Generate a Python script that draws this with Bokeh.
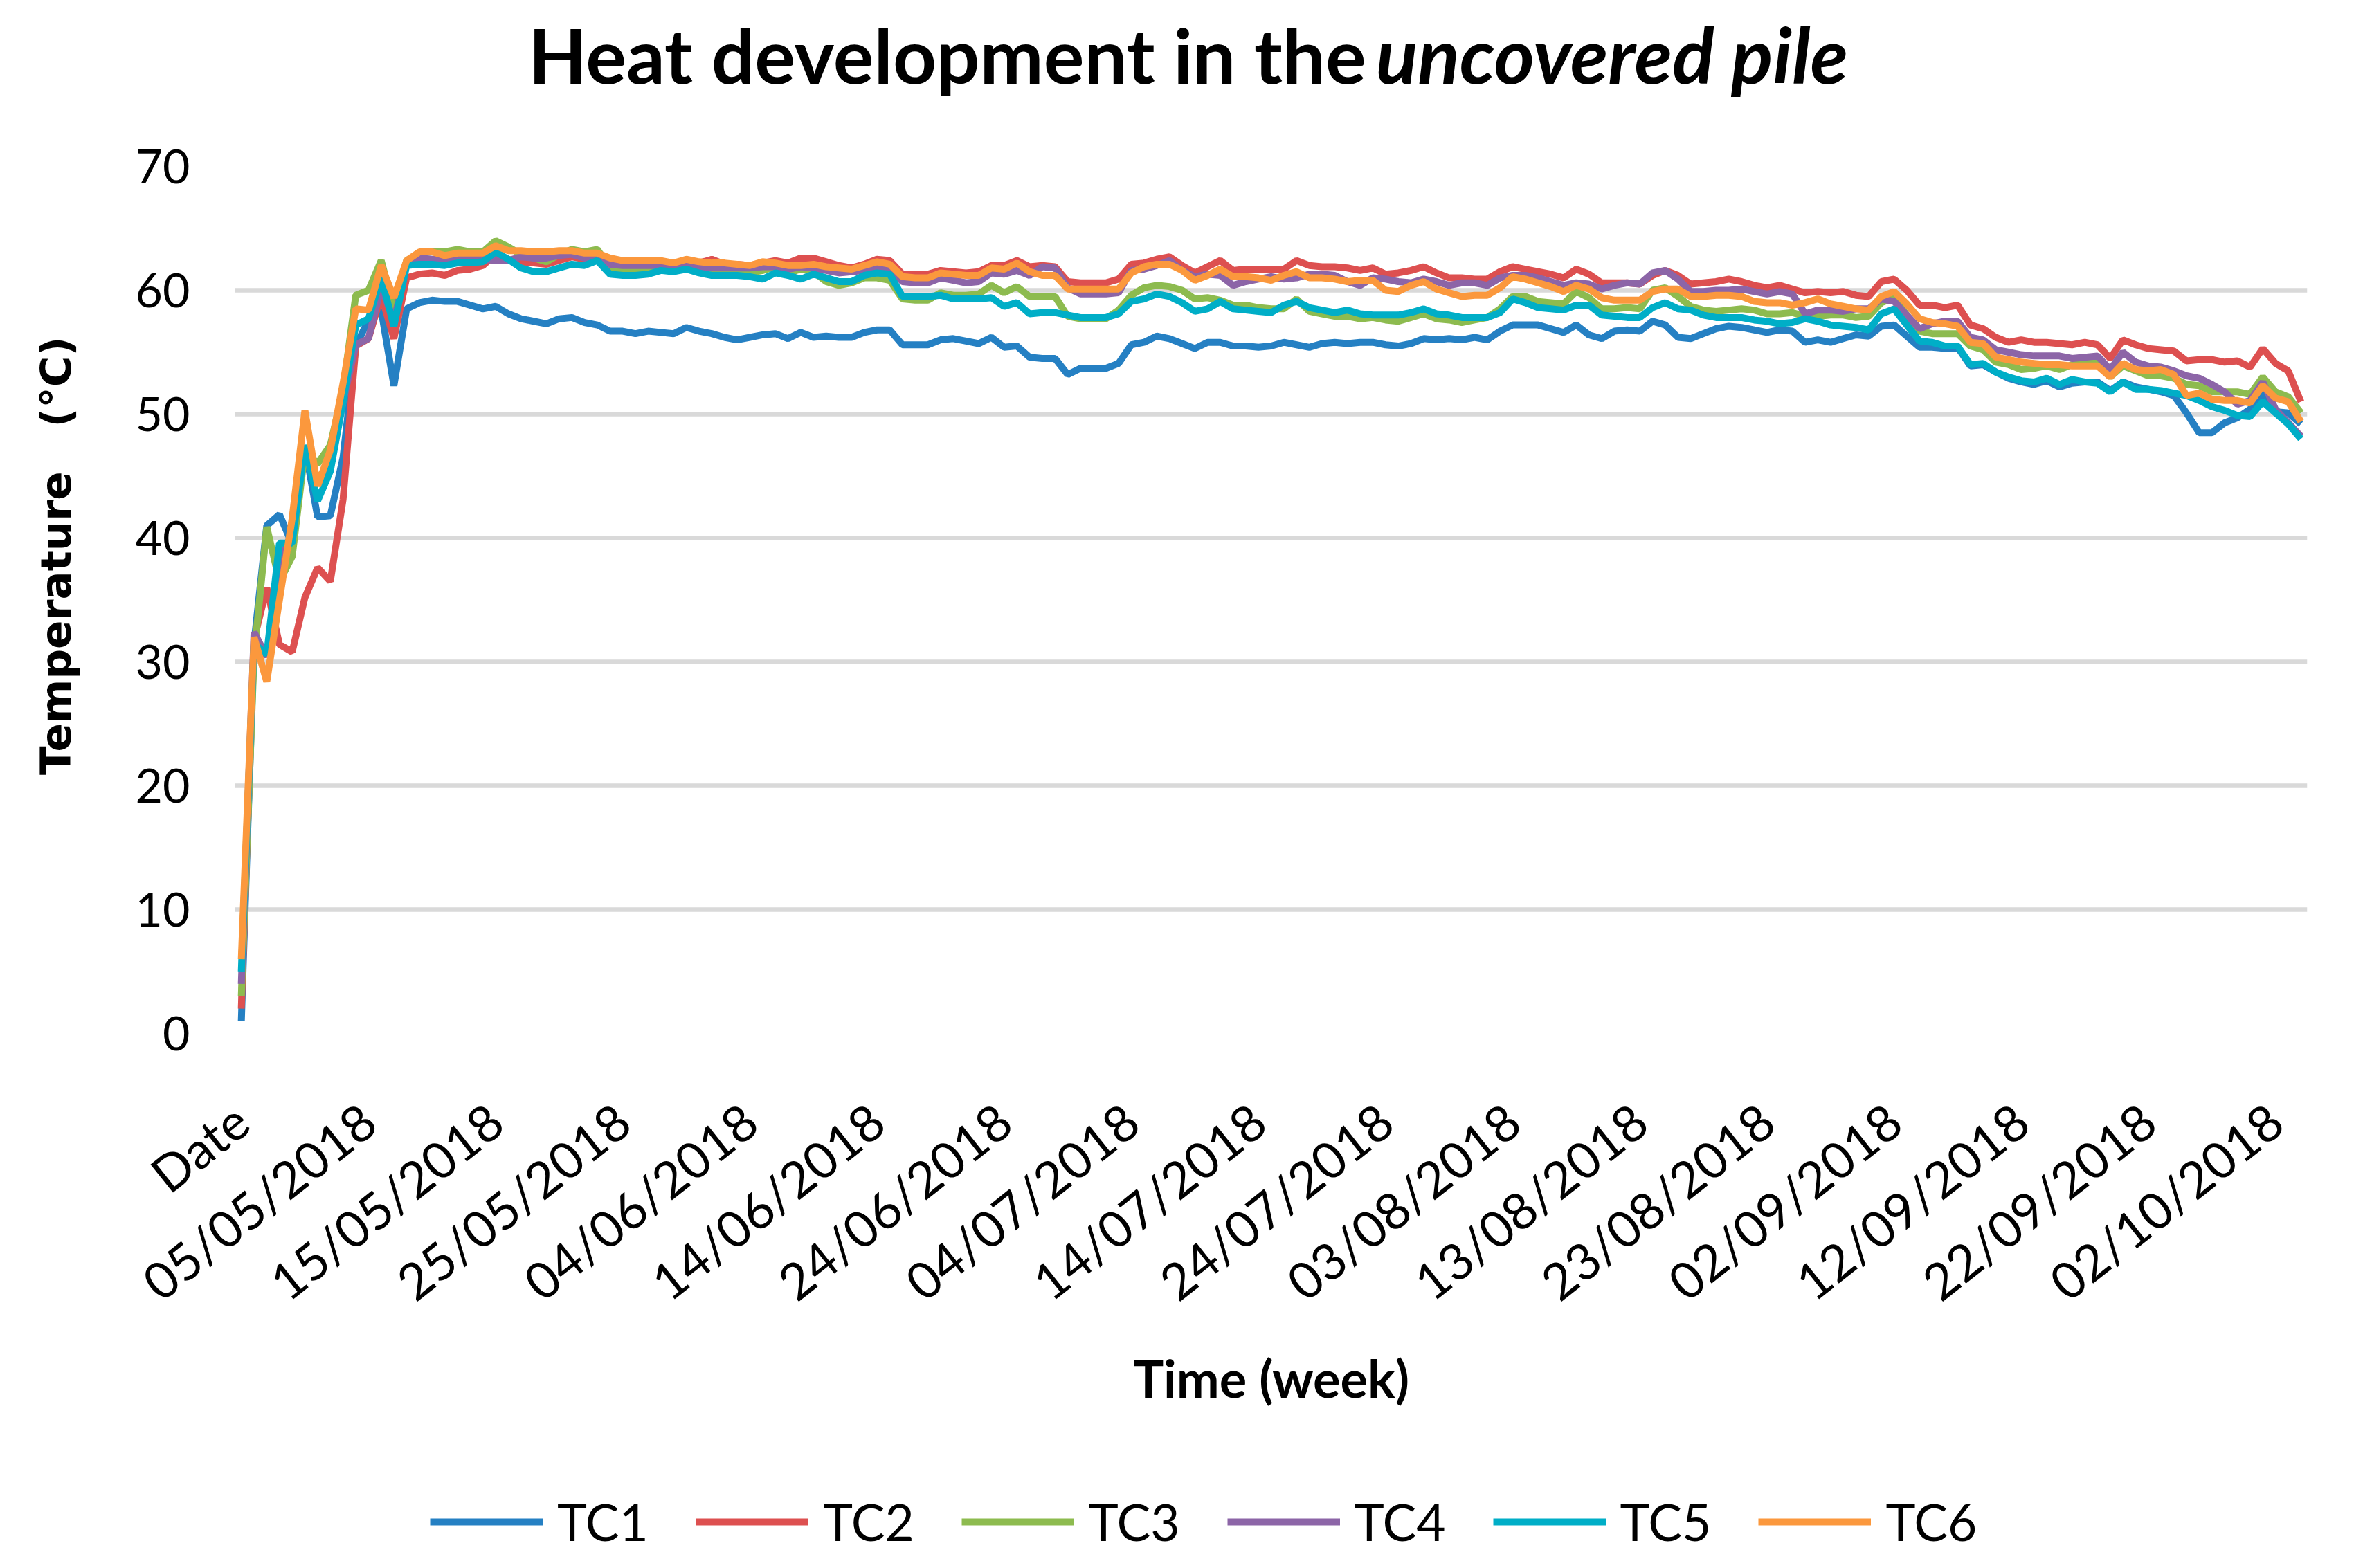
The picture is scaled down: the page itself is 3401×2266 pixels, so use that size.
import pandas as pd
from bokeh.plotting import figure
from bokeh.models import Range1d, FixedTicker, Legend, LegendItem
from bokeh.core.properties import value
from bokeh.embed import file_html
from bokeh.resources import INLINE

# ---------------- data ----------------
categories = ["Date"] + [d.strftime("%d/%m/%Y") for d in pd.date_range("2018-04-26", periods=162, freq="D")]

TC1 = [1, 31.5, 41.0, 41.9, 39.5, 47.4, 41.7, 41.8, 46.5, 55.5, 57.6, 58.4, 52.3, 58.5, 59.0,
       59.2, 59.1, 59.1, 58.8, 58.5, 58.7, 58.1, 57.7, 57.5, 57.3, 57.7, 57.8, 57.4, 57.2, 56.7, 56.7, 56.5, 56.7, 56.6, 56.5, 57.0, 56.7, 56.5, 56.2,
       56.0, 56.2, 56.4, 56.5, 56.1, 56.6, 56.2, 56.3, 56.2, 56.2, 56.6, 56.8, 56.8, 55.6, 55.6, 55.6, 56.0, 56.1, 55.9, 55.7, 56.2, 55.4, 55.5, 54.6, 54.5,
       54.5, 53.2, 53.7, 53.7, 53.7, 54.1, 55.6, 55.8, 56.3, 56.1, 55.7, 55.3, 55.8, 55.8, 55.5, 55.5, 55.4, 55.5, 55.8, 55.6, 55.4, 55.7, 55.8, 55.7, 55.8,
       55.8, 55.6, 55.5, 55.7, 56.1, 56.0, 56.1, 56.0, 56.2, 56.0, 56.7, 57.2, 57.2, 57.2, 56.9, 56.6, 57.2, 56.4, 56.1, 56.7, 56.8, 56.7, 57.5, 57.2, 56.2,
       56.1, 56.5, 56.9, 57.1, 57.0, 56.8, 56.6, 56.8, 56.7, 55.8, 56.0, 55.8, 56.1, 56.4, 56.3, 57.1, 57.2, 56.3, 55.4, 55.4, 55.3, 55.4, 53.9, 54.0, 53.4,
       52.9, 52.6, 52.4, 52.7, 52.2, 52.5, 52.6, 52.6, 51.9, 52.6, 52.2, 52.0, 51.8, 51.5, 50.1, 48.5, 48.5, 49.3, 49.7, 50.4, 51.6, 50.2, 50.1, 49.2]

TC2 = [2, 31.8, 36.0, 31.4, 30.8, 35.2, 37.6, 36.5, 43.1, 55.5, 56.1, 59.6, 56.1, 61.0, 61.3,
       61.4, 61.2, 61.6, 61.7, 62.0, 62.9, 62.5, 62.2, 62.2, 62.1, 62.4, 62.7, 62.5, 62.6, 62.3, 62.3, 62.2, 62.2, 62.2, 62.1, 62.4, 62.2, 62.5, 62.1,
       62.1, 62.0, 62.2, 62.4, 62.2, 62.6, 62.6, 62.3, 62.0, 61.8, 62.1, 62.5, 62.4, 61.3, 61.3, 61.3, 61.6, 61.5, 61.4, 61.5, 62.0, 62.0, 62.4, 61.9, 62.0,
       61.9, 60.7, 60.6, 60.6, 60.6, 60.9, 62.1, 62.2, 62.5, 62.7, 62.0, 61.4, 61.9, 62.4, 61.6, 61.7, 61.7, 61.7, 61.7, 62.4, 62.0, 61.9, 61.9, 61.8, 61.6,
       61.8, 61.3, 61.4, 61.6, 61.9, 61.4, 61.0, 61.0, 60.9, 60.9, 61.5, 61.9, 61.7, 61.5, 61.3, 61.0, 61.7, 61.3, 60.6, 60.6, 60.6, 60.5, 61.2, 61.6, 61.2,
       60.5, 60.6, 60.7, 60.9, 60.7, 60.4, 60.2, 60.4, 60.1, 59.8, 59.9, 59.8, 59.9, 59.6, 59.5, 60.7, 60.9, 60.0, 58.8, 58.8, 58.6, 58.8, 57.2, 56.9, 56.2,
       55.8, 56.0, 55.8, 55.8, 55.7, 55.6, 55.8, 55.6, 54.5, 56.0, 55.6, 55.3, 55.2, 55.1, 54.3, 54.4, 54.4, 54.2, 54.3, 53.8, 55.3, 54.1, 53.5, 51.0]

TC3 = [3, 30.5, 40.9, 36.5, 38.5, 47.0, 46.0, 47.5, 52.0, 59.6, 60.0, 62.4, 58.5, 62.4, 63.0,
       63.1, 63.1, 63.3, 63.1, 63.1, 64.0, 63.5, 62.9, 62.6, 62.3, 62.9, 63.3, 63.1, 63.3, 61.8, 61.6, 61.7, 61.7, 61.8, 61.9, 62.0, 61.7, 61.5, 61.4,
       61.5, 61.4, 61.6, 61.9, 61.4, 61.7, 61.5, 60.7, 60.4, 60.6, 61.0, 61.0, 60.8, 59.3, 59.2, 59.2, 59.8, 59.6, 59.6, 59.7, 60.4, 59.8, 60.3, 59.5, 59.5,
       59.5, 57.9, 57.7, 57.7, 57.7, 58.4, 59.6, 60.2, 60.4, 60.3, 60.0, 59.3, 59.4, 59.2, 58.8, 58.8, 58.6, 58.5, 58.5, 59.3, 58.3, 58.1, 57.9, 57.9, 57.7,
       57.8, 57.6, 57.5, 57.8, 58.1, 57.7, 57.6, 57.4, 57.6, 57.8, 58.5, 59.5, 59.5, 59.1, 59.0, 58.9, 59.9, 59.4, 58.5, 58.5, 58.6, 58.5, 60.0, 60.2, 59.5,
       58.7, 58.4, 58.3, 58.4, 58.5, 58.4, 58.1, 58.1, 58.2, 57.9, 57.9, 58.0, 58.0, 57.8, 57.9, 59.0, 59.4, 58.0, 56.7, 56.5, 56.5, 56.5, 55.5, 55.2, 54.2,
       54.0, 53.6, 53.7, 53.9, 53.6, 54.0, 54.1, 54.1, 53.0, 53.9, 53.5, 53.1, 53.1, 52.9, 52.4, 52.3, 51.8, 51.8, 51.8, 51.6, 53.0, 51.8, 51.4, 50.1]

TC4 = [4, 32.4, 30.4, 38.0, 40.5, 47.4, 44.5, 46.0, 51.0, 55.6, 56.1, 60.3, 57.5, 62.1, 62.6,
       62.5, 62.5, 62.6, 62.5, 62.5, 62.4, 62.4, 62.7, 62.6, 62.6, 62.8, 62.9, 62.6, 62.6, 62.1, 62.0, 62.0, 62.0, 62.0, 61.9, 62.1, 61.9, 61.8, 61.8,
       61.8, 61.8, 61.9, 61.9, 61.7, 61.9, 61.8, 61.6, 61.4, 61.5, 61.6, 61.8, 61.8, 60.7, 60.6, 60.6, 61.0, 60.8, 60.6, 60.7, 61.4, 61.3, 61.6, 61.2, 61.9,
       61.8, 60.2, 59.7, 59.7, 59.7, 59.8, 61.6, 61.7, 62.0, 62.4, 61.6, 61.1, 61.3, 61.2, 60.4, 60.7, 60.9, 61.1, 60.9, 61.0, 61.3, 61.3, 61.2, 60.7, 60.4,
       61.0, 60.9, 60.7, 60.6, 60.9, 60.7, 60.4, 60.6, 60.6, 60.4, 61.0, 61.2, 61.2, 61.0, 60.7, 60.4, 60.6, 60.5, 60.1, 60.4, 60.6, 60.5, 61.4, 61.6, 60.9,
       59.9, 59.9, 60.0, 60.0, 60.1, 59.9, 59.7, 59.9, 59.7, 58.1, 58.4, 58.4, 58.3, 58.5, 58.5, 59.3, 59.1, 58.0, 56.9, 57.3, 57.5, 57.5, 56.2, 56.0, 55.2,
       55.0, 54.8, 54.7, 54.7, 54.7, 54.5, 54.6, 54.7, 53.6, 55.0, 54.2, 53.9, 53.8, 53.5, 53.1, 52.9, 52.4, 51.8, 50.8, 51.1, 52.6, 50.4, 49.3, 48.2]

TC5 = [5, 31.5, 30.6, 39.6, 39.6, 47.5, 43.0, 45.4, 51.0, 57.2, 57.7, 61.0, 57.1, 62.0, 62.1,
       62.1, 62.0, 62.2, 62.2, 62.3, 63.1, 62.5, 61.8, 61.5, 61.5, 61.8, 62.1, 62.0, 62.4, 61.3, 61.2, 61.2, 61.3, 61.6, 61.5, 61.7, 61.4, 61.2, 61.2,
       61.2, 61.1, 60.9, 61.4, 61.2, 60.9, 61.3, 61.0, 60.7, 60.7, 61.2, 61.4, 61.3, 59.5, 59.5, 59.5, 59.6, 59.3, 59.3, 59.3, 59.4, 58.7, 59.0, 58.1, 58.2,
       58.2, 58.0, 57.8, 57.8, 57.8, 58.1, 59.1, 59.3, 59.7, 59.5, 59.0, 58.3, 58.5, 59.1, 58.5, 58.4, 58.3, 58.2, 58.8, 59.1, 58.6, 58.4, 58.2, 58.4, 58.1,
       58.0, 58.0, 58.0, 58.2, 58.5, 58.1, 58.0, 57.8, 57.8, 57.8, 58.2, 59.3, 59.0, 58.6, 58.5, 58.4, 58.8, 58.8, 58.0, 57.9, 57.8, 57.8, 58.6, 59.0, 58.5,
       58.4, 58.0, 57.8, 57.8, 57.8, 57.6, 57.5, 57.3, 57.4, 57.7, 57.5, 57.2, 57.1, 57.0, 56.8, 58.1, 58.5, 57.2, 55.9, 55.8, 55.5, 55.5, 54.0, 54.1, 53.4,
       53.0, 52.7, 52.6, 52.9, 52.4, 52.8, 52.6, 52.5, 51.8, 52.6, 52.0, 52.0, 51.9, 51.7, 51.5, 51.1, 50.6, 50.3, 49.9, 49.8, 51.0, 50.1, 49.2, 48.0]

TC6 = [6, 32.0, 28.4, 35.0, 41.6, 50.3, 44.2, 47.1, 52.5, 58.5, 58.4, 62.0, 59.4, 62.4, 63.1,
       63.1, 62.8, 63.0, 63.0, 63.0, 63.6, 63.2, 63.2, 63.1, 63.1, 63.2, 63.2, 63.0, 63.0, 62.6, 62.4, 62.4, 62.4, 62.4, 62.2, 62.5, 62.3, 62.2, 62.2,
       62.1, 62.0, 62.3, 62.2, 62.0, 62.0, 62.1, 61.9, 61.8, 61.7, 62.0, 62.3, 62.1, 61.1, 61.0, 61.0, 61.4, 61.3, 61.2, 61.2, 61.8, 61.7, 62.2, 61.5, 61.2,
       61.2, 60.1, 60.1, 60.1, 60.1, 60.1, 61.4, 61.9, 62.1, 62.1, 61.6, 60.8, 61.2, 61.7, 61.1, 61.1, 61.0, 60.8, 61.2, 61.5, 61.0, 61.0, 60.9, 60.7, 60.8,
       60.8, 60.0, 59.9, 60.4, 60.7, 60.1, 59.8, 59.5, 59.6, 59.6, 60.2, 61.1, 60.9, 60.6, 60.3, 59.9, 60.4, 60.1, 59.4, 59.2, 59.2, 59.2, 59.9, 60.1, 60.1,
       59.5, 59.5, 59.6, 59.6, 59.5, 59.1, 59.0, 59.0, 58.8, 59.0, 59.3, 58.9, 58.7, 58.5, 58.4, 59.5, 59.9, 58.9, 57.7, 57.4, 57.3, 57.1, 55.8, 55.7, 54.6,
       54.4, 54.2, 54.1, 54.0, 54.0, 53.9, 53.9, 53.9, 53.0, 54.1, 53.6, 53.5, 53.6, 53.2, 51.5, 51.7, 51.2, 51.1, 51.1, 50.9, 52.3, 51.3, 51.0, 49.4]

series_names = ["TC1", "TC2", "TC3", "TC4", "TC5", "TC6"]
series_values = [TC1, TC2, TC3, TC4, TC5, TC6]
series_colors = ["#2580C3", "#DD5050", "#8DBB4F", "#8C65A7", "#00AEC7", "#FB983D"]

y_ticks = [0, 10, 20, 30, 40, 50, 60, 70]
x_tick_positions = list(range(0, len(categories), 10))
x_tick_labels = {i: categories[i] for i in x_tick_positions}

title_regular = "Heat development in the"
title_italic = "uncovered pile"
x_title = "Time (week)"
y_title = "\u00a0" * 6 + "Temperature\u00a0\u00a0\u00a0(°C)"

W = 3385
TITLE_H = 180
MAIN_H = 1930
LEG_H = 140
B = 5  # bokeh default min border of the strips

xs = list(range(len(categories)))

# ---------------- title strip ----------------
pt = figure(width=W, height=TITLE_H, output_backend="svg", toolbar_location=None,
            x_range=Range1d(-B, W - B), y_range=Range1d(B, TITLE_H - B),
            x_axis_location=None, y_axis_location=None)
pt.grid.visible = False
pt.outline_line_color = None
pt.text(x=[755], y=[103], text=[title_regular], text_baseline="alphabetic",
        text_font=value("Lato"), text_font_style=value("bold"), text_font_size=value("110px"),
        text_color="#000000")
pt.text(x=[1983], y=[103], text=[title_italic], text_baseline="alphabetic",
        text_font=value("Lato"), text_font_style=value("bold italic"), text_font_size=value("112px"),
        text_color="#000000")

# ---------------- main chart ----------------
p = figure(width=W, height=MAIN_H, output_backend="svg", toolbar_location=None,
           x_range=Range1d(-0.5, len(categories) - 0.5), y_range=Range1d(0, 70),
           min_border_left=339, min_border_right=52, min_border_top=60, min_border_bottom=617)
p.outline_line_color = None
p.xgrid.grid_line_color = None
p.ygrid.grid_line_color = "#D9D9D9"
p.ygrid.grid_line_width = 6.5

p.yaxis.ticker = FixedTicker(ticks=y_ticks)
p.yaxis.axis_line_color = None
p.yaxis.major_tick_line_color = None
p.yaxis.minor_tick_line_color = None
p.yaxis.major_label_standoff = 59
p.yaxis.major_label_text_font = "Lato"
p.yaxis.major_label_text_font_size = "68px"
p.yaxis.major_label_text_color = "#000000"
p.yaxis.axis_label = y_title
p.yaxis.axis_label_text_font = "DejaVu Sans"
p.yaxis.axis_label_text_font_style = "bold"
p.yaxis.axis_label_text_font_size = "61px"
p.yaxis.axis_label_text_color = "#000000"
p.yaxis.axis_label_standoff = 77

p.xaxis.ticker = FixedTicker(ticks=x_tick_positions)
p.xaxis.major_label_overrides = x_tick_labels
p.xaxis.axis_line_color = None
p.xaxis.major_tick_line_color = None
p.xaxis.minor_tick_line_color = None
p.xaxis.major_label_orientation = 0.672
p.xaxis.major_label_standoff = 110
p.xaxis.major_label_text_font = "Lato"
p.xaxis.major_label_text_font_size = "73px"
p.xaxis.major_label_text_color = "#000000"
p.xaxis.axis_label = x_title
p.xaxis.axis_label_text_font = "Lato"
p.xaxis.axis_label_text_font_style = "bold"
p.xaxis.axis_label_text_font_size = "74px"
p.xaxis.axis_label_text_color = "#000000"
p.xaxis.axis_label_standoff = 14

for name, vals, col in zip(series_names, series_values, series_colors):
    p.line(xs, vals, line_color=col, line_width=10)

# ---------------- legend strip ----------------
# the same series are drawn here out of view, only to give the legend its swatches
pl = figure(width=W, height=LEG_H, output_backend="svg", toolbar_location=None,
            x_range=Range1d(0, 1), y_range=Range1d(-100, -99),
            x_axis_location=None, y_axis_location=None)
pl.grid.visible = False
pl.outline_line_color = None
items = []
for name, vals, col in zip(series_names, series_values, series_colors):
    r = pl.line(xs, vals, line_color=col, line_width=10)
    items.append(LegendItem(label=name, renderers=[r]))
legend = Legend(items=items, orientation="horizontal", location=(616, 2),
                glyph_width=163, glyph_height=60, label_height=60, label_width=119,
                label_standoff=21, spacing=68, padding=0, margin=0,
                border_line_color=None, background_fill_alpha=0,
                label_text_font="Lato", label_text_font_size="73px",
                label_text_color="#000000")
pl.add_layout(legend)

open("out.html", "w").write(file_html([pt, p, pl], INLINE))
